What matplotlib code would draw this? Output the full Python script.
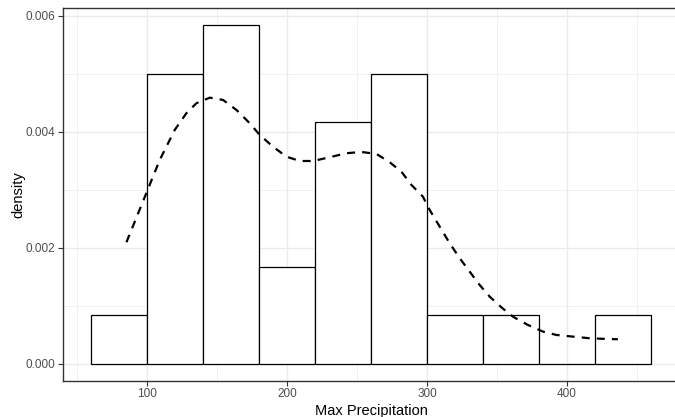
import matplotlib
matplotlib.use("Agg")
import matplotlib.pyplot as plt
from matplotlib.ticker import FixedLocator

plt.rcParams['font.family'] = ['Liberation Sans', 'DejaVu Sans']

# Histogram (binwidth 40)
bin_left = [60, 100, 140, 180, 220, 260, 300, 340, 380, 420]
bin_width = 40
density_vals = [0.000833, 0.005, 0.005833, 0.001667, 0.004167, 0.005,
                0.000833, 0.000833, 0.0, 0.000833]

# Kernel density curve
kde_x = [85.3, 100, 109.1, 119.8, 128.1, 135.3, 144.8, 154.3, 163.9, 173.4,
         180.5, 190, 199.6, 209.1, 218.6, 230.5, 242.4, 253.1, 263.9, 273.4,
         281.7, 288.9, 297.1, 301.9, 309.1, 316.2, 323.4, 330.5, 337.6, 344.8,
         353.1, 361.4, 372.1, 382.9, 392.4, 404.3, 416.2, 428.1, 436.4]
kde_y = [0.002093, 0.002969, 0.003512, 0.004029, 0.004317, 0.004490, 0.004586,
         0.004547, 0.004374, 0.004145, 0.003943, 0.003741, 0.003569, 0.003494,
         0.003494, 0.003559, 0.003628, 0.003650, 0.003616, 0.003472, 0.003310,
         0.003081, 0.002879, 0.002650, 0.002362, 0.002076, 0.001817, 0.001586,
         0.001357, 0.001155, 0.000972, 0.000810, 0.000667, 0.000552, 0.000495,
         0.000466, 0.000438, 0.000426, 0.000421]

x_ticks = [100, 200, 300, 400]
y_ticks = [0.000, 0.002, 0.004, 0.006]
y_tick_labels = ["0.000", "0.002", "0.004", "0.006"]

fig = plt.figure(figsize=(6.75, 4.17), dpi=100)
W, H = 675, 417
left_px, right_px, top_px, bottom_px = 63, 679, 8.4, 380.6
ax = fig.add_axes([left_px / W, 1 - bottom_px / H,
                   (right_px - left_px) / W, (bottom_px - top_px) / H])

ax.set_xlim(40, 480)
ax.set_ylim(-0.000292, 0.006125)

# grid
ax.xaxis.set_major_locator(FixedLocator(x_ticks))
ax.xaxis.set_minor_locator(FixedLocator([50, 150, 250, 350, 450]))
ax.yaxis.set_major_locator(FixedLocator(y_ticks))
ax.yaxis.set_minor_locator(FixedLocator([0.001, 0.003, 0.005]))
ax.grid(which='major', color='#ebebeb', linewidth=1.0)
ax.grid(which='minor', color='#ebebeb', linewidth=0.5)
ax.set_axisbelow(True)

ax.bar(bin_left, density_vals, width=bin_width, align='edge',
       facecolor='white', edgecolor='black', linewidth=0.9, zorder=2)
ax.plot(kde_x, kde_y, color='black', linewidth=1.6,
        linestyle=(0, (3.6, 3.2)), zorder=3)

ax.set_yticklabels(y_tick_labels)
ax.tick_params(which='major', length=3.5, width=0.8, color='#333333',
               labelcolor='#4d4d4d', labelsize=8.5, pad=2)
ax.tick_params(which='minor', length=0)

for s in ax.spines.values():
    s.set_color('#333333')
    s.set_linewidth(1.0)

ax.set_xlabel("Max Precipitation", fontsize=10.5, color='black', labelpad=3)
ax.set_ylabel("density", fontsize=10.5, color='black', labelpad=0)

fig.savefig("out.png", dpi=100)
